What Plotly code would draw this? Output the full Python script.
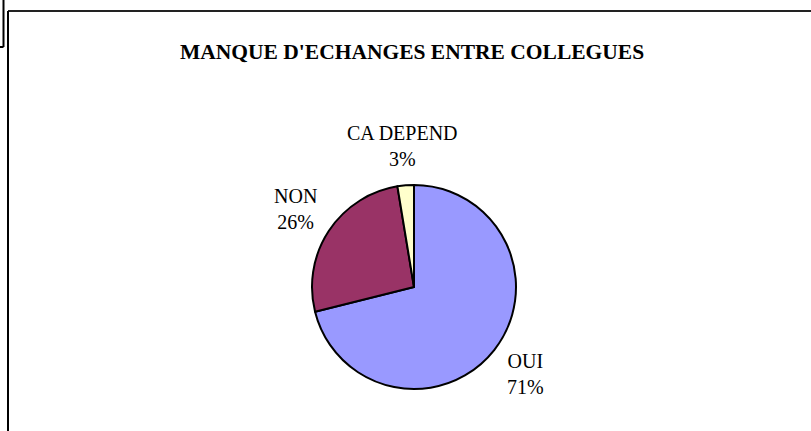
import math
import plotly.graph_objects as go

# ---- data ----
categories = ["OUI", "NON", "CA DEPEND"]
values = [71.1, 26.3, 2.6]
colors = ["#9999FF", "#993366", "#FFFFCC"]
title_text = "MANQUE D'ECHANGES ENTRE COLLEGUES"

W, H = 811, 431
CX, CY, R = 414, 287, 102  # pie centre / radius in pixels
LABEL_FACTOR = 1.39

def px(x):
    return x / W

def py(y):
    return 1 - y / H

fig = go.Figure()
fig.add_trace(go.Pie(
    labels=categories,
    values=values,
    marker=dict(colors=colors, line=dict(color="black", width=2)),
    sort=False,
    direction="clockwise",
    rotation=0,
    textinfo="none",
    hoverinfo="label+percent",
    showlegend=False,
    domain=dict(x=[px(CX - R), px(CX + R)], y=[py(CY + R), py(CY - R)]),
))

# labels placed along the middle angle of each slice
total = sum(values)
annotations = []
cum = 0.0
for lab, v in zip(categories, values):
    mid = (cum + v / 2) / total * 2 * math.pi
    cum += v
    d = LABEL_FACTOR * R
    lx = CX + d * math.sin(mid)
    ly = CY - d * math.cos(mid)
    pct = round(v / total * 100)
    annotations.append(dict(
        x=px(lx), y=py(ly), xref="paper", yref="paper",
        xanchor="center", yanchor="middle", showarrow=False,
        text=f"{lab}<br>{pct}%",
        font=dict(family="Liberation Serif", size=20, color="black"),
    ))

annotations.append(dict(
    x=px(412.5), y=py(52), xref="paper", yref="paper",
    xanchor="center", yanchor="middle", showarrow=False,
    text=f"<b>{title_text}</b>",
    font=dict(family="Liberation Serif", size=21.5, color="black"),
))

shapes = [
    # outer frame (top and left)
    dict(type="line", xref="paper", yref="paper", x0=px(8), x1=1.0, y0=py(11), y1=py(11),
         line=dict(color="#222222", width=2)),
    dict(type="line", xref="paper", yref="paper", x0=px(8), x1=px(8), y0=py(11), y1=0.0,
         line=dict(color="black", width=2)),
    # small bracket top-left
    dict(type="line", xref="paper", yref="paper", x0=px(3.5), x1=px(3.5), y0=1.0, y1=py(47),
         line=dict(color="black", width=2)),
    dict(type="line", xref="paper", yref="paper", x0=0.0, x1=px(3.5), y0=py(47), y1=py(47),
         line=dict(color="black", width=2)),
]

fig.update_layout(
    width=W, height=H,
    margin=dict(l=0, r=0, t=0, b=0),
    paper_bgcolor="white",
    plot_bgcolor="white",
    annotations=annotations,
    shapes=shapes,
)

fig.write_html(
    "out.html",
    config={"displayModeBar": False},
    post_script="document.body.style.margin='0';document.body.style.overflow='hidden';",
)
